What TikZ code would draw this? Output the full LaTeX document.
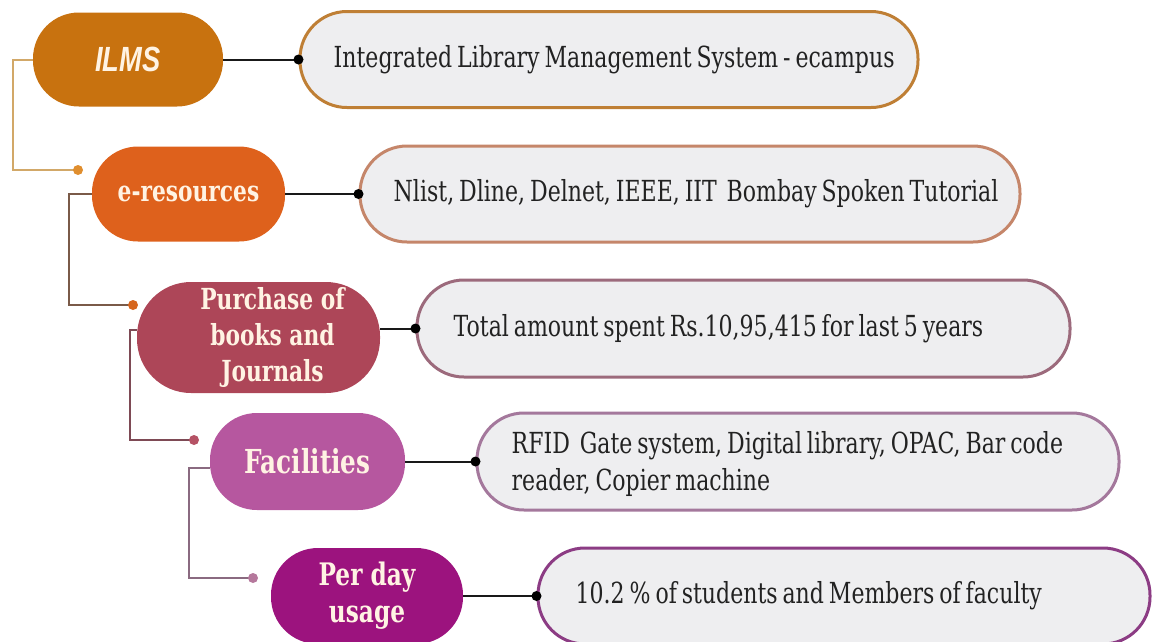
\documentclass[tikz,border=0pt]{standalone}
\usepackage{fontspec}
\usetikzlibrary{calc}
\newfontfamily\boxfont{DejaVu Serif}[FakeStretch=0.76,WordSpace=0.7]
\newfontfamily\labfont{DejaVu Serif}[FakeStretch=0.75]
\newfontfamily\ilmsfont{Liberation Sans}[FakeStretch=0.78]
\definecolor{ilmsC}{HTML}{C8720F}
\definecolor{eresC}{HTML}{DE611C}
\definecolor{purC}{HTML}{AD4658}
\definecolor{facC}{HTML}{B6579F}
\definecolor{perC}{HTML}{9C137E}
\definecolor{bd1}{HTML}{BF7F35}
\definecolor{bd2}{HTML}{C5866A}
\definecolor{bd3}{HTML}{9C6A7C}
\definecolor{bd4}{HTML}{A4789C}
\definecolor{bd5}{HTML}{8C3C84}
\definecolor{boxfill}{HTML}{EEEEF0}
\definecolor{boxtext}{HTML}{222222}
\definecolor{labtext}{HTML}{FFF3E3}
\definecolor{br1}{HTML}{D2A868}
\definecolor{br2}{HTML}{7A5A48}
\definecolor{br3}{HTML}{7E4A55}
\definecolor{br4}{HTML}{8A6A80}
\definecolor{dt1}{HTML}{E08E2E}
\definecolor{dt2}{HTML}{D6661E}
\definecolor{dt3}{HTML}{B55265}
\definecolor{dt4}{HTML}{B5789C}
\begin{document}
\begin{tikzpicture}[x=1pt,y=-1pt,
  lab/.style={rectangle, inner sep=0pt, align=center, text=labtext,
    font=\labfont\bfseries\fontsize{29}{36}\selectfont},
  info/.style={rectangle, fill=boxfill, line width=3pt, inner sep=0pt},
  itext/.style={inner sep=0pt, anchor=west, align=left, text=boxtext,
    font=\boxfont\fontsize{29}{37}\selectfont},
  conn/.style={line width=2pt, draw=black!90},
  bracket/.style={line width=2pt}
]
\useasboundingbox (0,0) rectangle (1152,641);

% category nodes
\node[lab, fill=ilmsC, minimum width=190pt, minimum height=94pt, rounded corners=46pt,
  font=\ilmsfont\bfseries\itshape\fontsize{35}{40}\selectfont] (ilms) at (128,59.5) {ILMS};
\node[lab, fill=eresC, minimum width=193pt, minimum height=95pt, rounded corners=46pt] (eres) at (188.5,194) {e-resources};
\node[lab, fill=purC, minimum width=243pt, minimum height=111pt, rounded corners=54pt] (purch) at (258.5,337.5)
  {\hspace*{28pt}Purchase of\\\hspace*{28pt}books and\\\hspace*{28pt}Journals};
\node[lab, fill=facC, minimum width=195pt, minimum height=97pt, rounded corners=47pt,
  font=\labfont\bfseries\fontsize{33}{38}\selectfont] (fac) at (307.5,461.5) {Facilities};
\node[lab, fill=perC, minimum width=192pt, minimum height=96pt, rounded corners=47pt,
  font=\labfont\bfseries\fontsize{31}{37}\selectfont] (per) at (367,596) {Per day\\usage};

% info boxes
\node[info, draw=bd1, minimum width=618pt, minimum height=96pt, rounded corners=47pt] (box1) at (609,59.5) {};
\node[info, draw=bd2, minimum width=660pt, minimum height=96pt, rounded corners=47pt] (box2) at (690,194) {};
\node[info, draw=bd3, minimum width=653pt, minimum height=97pt, rounded corners=47pt] (box3) at (743.5,328.5) {};
\node[info, draw=bd4, minimum width=642pt, minimum height=97pt, rounded corners=47pt] (box4) at (798,461.5) {};
\node[info, draw=bd5, minimum width=612pt, minimum height=96pt, rounded corners=47pt] (box5) at (844,596) {};

\node[itext] (t1) at ($(box1.west)+(35,0)$) {Integrated Library Management System - ecampus};
\node[itext] (t2) at ($(box2.west)+(35,0)$) {Nlist, Dline, Delnet, IEEE, IIT\ \ Bombay Spoken Tutorial};
\node[itext] (t3) at ($(box3.west)+(38,0)$) {Total amount spent Rs.10,95,415 for last 5 years};
\node[itext] (t4) at ($(box4.west)+(36,2)$) {RFID\ \ Gate system, Digital library, OPAC, Bar code\\reader, Copier machine};
\node[itext] (t5) at ($(box5.west)+(39,0)$) {10.2 \% of students and Members of faculty};

% connectors
\draw[conn] (ilms.east) -- (box1.west);
\draw[conn] (eres.east) -- (box2.west);
\draw[conn] (box3.west -| purch.east) -- (box3.west);
\draw[conn] (fac.east) -- (box4.west);
\draw[conn] (per.east) -- (box5.west);
\foreach \b in {box1,box2,box3,box4,box5} \fill[black] (\b.west) circle (5);

% brackets
\coordinate (d1) at (78,170);
\coordinate (d2) at (133,305);
\coordinate (d3) at (194,440);
\coordinate (d4) at (253,578);
\draw[bracket, draw=br1] (ilms.west) -- ++(-20,0) |- (d1);
\draw[bracket, draw=br2] (eres.west) -- ++(-23,0) |- (d2);
\draw[bracket, draw=br3] ($(purch.west)+(0,-7.5)$) -- ++(-7,0) |- (d3);
\draw[bracket, draw=br4] ($(fac.west)+(0,6.5)$) -- ++(-21,0) |- (d4);
\fill[dt1] (d1) circle (5);
\fill[dt2] (d2) circle (5);
\fill[dt3] (d3) circle (5);
\fill[dt4] (d4) circle (5);
\end{tikzpicture}
\end{document}
